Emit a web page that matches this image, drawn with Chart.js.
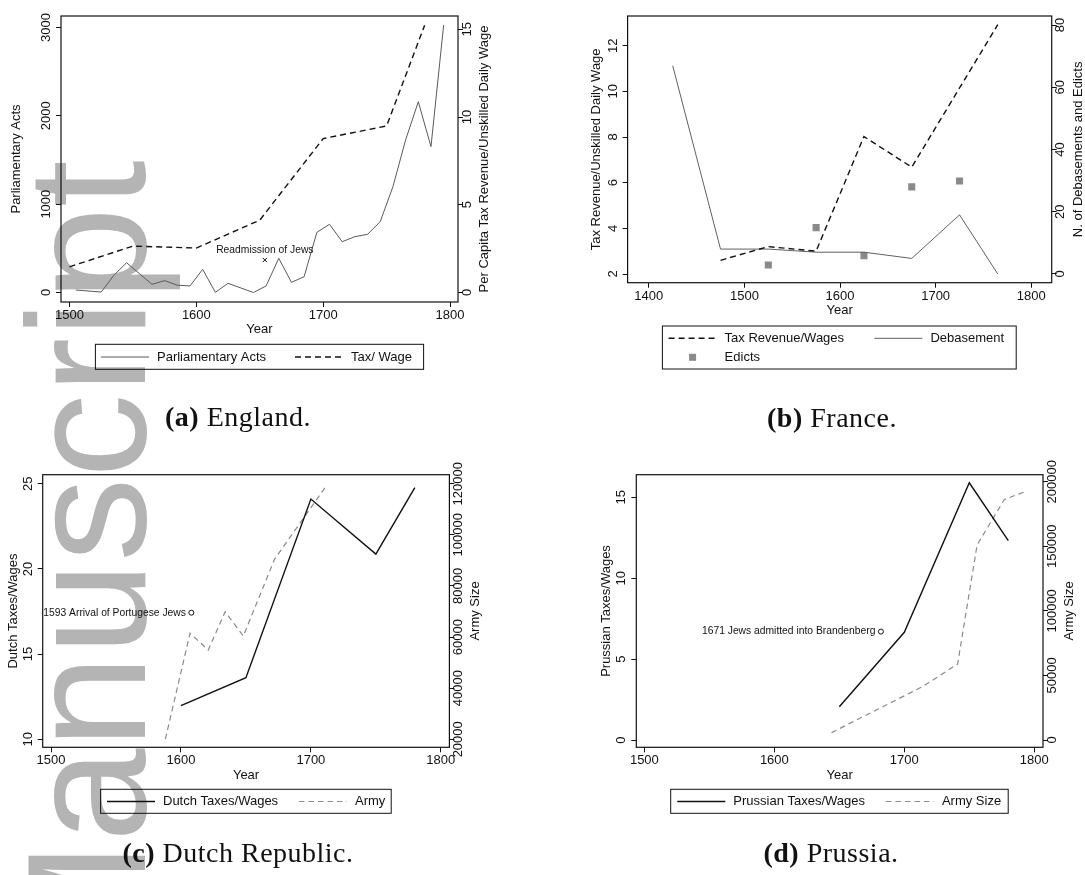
<!DOCTYPE html>
<html>
<head>
<meta charset="utf-8">
<script src="https://cdn.jsdelivr.net/npm/chart.js@4.4.1/dist/chart.umd.min.js"></script>
<style>
  html, body { margin: 0; padding: 0; background: #fff; }
  body { position: relative; width: 1085px; height: 875px; overflow: hidden; }
  #mark { position: absolute; left: 3px; top: 982px; transform-origin: 0 0; transform: rotate(-90deg);
          font: 168px/168px "Liberation Sans", Arial, sans-serif; color: #b4b4b4; white-space: nowrap; z-index: 0; }
  canvas { position: absolute; z-index: 1; }
  .cap { position: absolute; z-index: 2; transform: translate(-50%, -50%); white-space: nowrap;
         font: 28px "Liberation Serif", serif; letter-spacing: 0.5px; color: #111; }
</style>
</head>
<body>
<div id="mark">Manuscript</div>
<canvas id="eng" width="540" height="440" style="left:0;top:0"></canvas>
<canvas id="fra" width="545" height="440" style="left:540px;top:0"></canvas>
<canvas id="dut" width="540" height="435" style="left:0;top:440px"></canvas>
<canvas id="pru" width="545" height="435" style="left:540px;top:440px"></canvas>
<div class="cap" style="left:238px;top:417px"><b>(a)</b> England.</div>
<div class="cap" style="left:832px;top:418px"><b>(b)</b> France.</div>
<div class="cap" style="left:238px;top:853px"><b>(c)</b> Dutch Republic.</div>
<div class="cap" style="left:831px;top:853px"><b>(d)</b> Prussia.</div>
<script>
const SANS = '"Liberation Sans", Arial, sans-serif';
const INK = '#111';

// (a) England
const engYearTicks = [1500, 1600, 1700, 1800];
const engActTicks = [0, 1000, 2000, 3000];
const engTaxTicks = [0, 5, 10, 15];
const engActYears = [1505, 1525, 1535, 1545, 1565, 1575, 1585, 1595, 1605, 1615, 1625, 1645, 1655, 1665, 1675, 1685,
                     1695, 1705, 1715, 1725, 1735, 1745, 1755, 1765, 1775, 1785, 1795];
const engActs = [28, 5, 195, 337, 93, 134, 83, 74, 262, 2, 104, 0, 74, 387, 115, 179,
                 681, 772, 575, 632, 659, 802, 1198, 1727, 2160, 1651, 3028];
const engTaxYears = [1500, 1550, 1600, 1650, 1700, 1750, 1780];
const engTax = [1.46, 2.64, 2.53, 4.12, 8.77, 9.49, 15.23];
const engNoteYear = 1654;
const engNoteActs = 368;

// (b) France
const fraYearTicks = [1400, 1500, 1600, 1700, 1800];
const fraTaxTicks = [2, 4, 6, 8, 10, 12];
const fraCountTicks = [0, 20, 40, 60, 80];
const fraTaxYears = [1475, 1525, 1575, 1625, 1675, 1765];
const fraTax = [2.6, 3.2, 3.0, 8.02, 6.68, 12.92];
const fraDebYears = [1425, 1475, 1525, 1575, 1625, 1675, 1725, 1765];
const fraDebasements = [66.9, 8, 8, 7, 7, 5, 19, 0];
const fraEdictYears = [1525, 1575, 1625, 1675, 1725];
const fraEdicts = [2.9, 14.9, 5.9, 28, 29.9];

// (c) Dutch Republic
const dutYearTicks = [1500, 1600, 1700, 1800];
const dutTaxTicks = [10, 15, 20, 25];
const dutArmyTicks = [20000, 40000, 60000, 80000, 100000, 120000];
const dutTaxYears = [1600, 1650, 1700, 1750, 1780];
const dutTax = [11.98, 13.62, 24.1, 20.87, 24.77];
const dutArmyYears = [1588, 1607, 1621, 1634, 1648, 1672, 1712];
const dutArmy = [20100, 61500, 54900, 69900, 60400, 90400, 119300];
const dutNoteYear = 1608;
const dutNoteTax = 17.43;

// (d) Prussia
const pruYearTicks = [1500, 1600, 1700, 1800];
const pruTaxTicks = [0, 5, 10, 15];
const pruArmyTicks = [0, 50000, 100000, 150000, 200000];
const pruTaxYears = [1650, 1700, 1750, 1780];
const pruTax = [2.06, 6.66, 15.9, 12.32];
const pruArmyYears = [1644, 1714, 1741, 1756, 1777, 1793];
const pruArmy = [5700, 41300, 58800, 151000, 186300, 192300];
const pruNoteYear = 1682;
const pruNoteTax = 6.7;

function pts(xs, ys) {
  return xs.map((x, i) => ({ x: x, y: ys[i] }));
}

function fixedTicks(list) {
  return function (scale) { scale.ticks = list.map(v => ({ value: v })); };
}

// plot box, rotated y labels and titles, boxed legend and the note text
const panelPlugin = {
  id: 'panel',
  beforeDatasetsDraw(chart, args, o) {
    const a = chart.chartArea, ctx = chart.ctx;
    ctx.save();
    ctx.strokeStyle = INK;
    ctx.lineWidth = 1.2;
    ctx.strokeRect(a.left, a.top, a.right - a.left, a.bottom - a.top);
    ctx.restore();
  },
  afterDraw(chart, args, o) {
    const a = chart.chartArea, ctx = chart.ctx;
    const midY = (a.top + a.bottom) / 2;
    ctx.save();
    ctx.fillStyle = INK;
    ctx.textAlign = 'center';
    ctx.textBaseline = 'middle';
    ctx.font = '13px ' + SANS;
    function up(text, x, y) {
      ctx.save();
      ctx.translate(x, y);
      ctx.rotate(-Math.PI / 2);
      ctx.fillText(text, 0, 0);
      ctx.restore();
    }
    const ly = chart.scales.y, ry = chart.scales.y2;
    ly.ticks.forEach(t => up(String(t.value), a.left - 14.5, ly.getPixelForValue(t.value)));
    ry.ticks.forEach(t => up(String(t.value), a.right + 9, ry.getPixelForValue(t.value)));
    up(o.leftTitle, o.leftTitleX, midY);
    up(o.rightTitle, a.right + 26.5, midY);

    const lg = o.legend;
    ctx.strokeStyle = INK;
    ctx.lineWidth = 1;
    ctx.strokeRect(lg.box[0], lg.box[1], lg.box[2], lg.box[3]);
    ctx.textAlign = 'left';
    lg.items.forEach(it => {
      const ds = chart.data.datasets[it.ds];
      if (ds.showLine === false) {
        ctx.fillStyle = ds.pointBackgroundColor;
        ctx.fillRect(it.x + 24 - 3.5, it.y - 3.5, 7, 7);
      } else {
        ctx.save();
        ctx.strokeStyle = ds.borderColor;
        ctx.lineWidth = ds.borderWidth;
        ctx.setLineDash(ds.borderDash || []);
        ctx.beginPath();
        ctx.moveTo(it.x, it.y);
        ctx.lineTo(it.x + 48, it.y);
        ctx.stroke();
        ctx.restore();
      }
      ctx.fillStyle = INK;
      ctx.fillText(ds.label, it.x + 56, it.y);
    });

    if (o.note) {
      const ds = chart.data.datasets[o.note.ds];
      const p = chart.getDatasetMeta(o.note.ds).data[0];
      ctx.font = '10.3px ' + SANS;
      if (o.note.place === 'above') {
        ctx.textAlign = 'center';
        ctx.fillText(ds.label, p.x, p.y - 10);
      } else {
        ctx.textAlign = 'right';
        ctx.fillText(ds.label, p.x - 5.5, p.y);
      }
    }
    ctx.restore();
  }
};

function build(id, area, xr, yr, y2r, xTicks, yTicks, y2Ticks, datasets, panel) {
  const cv = document.getElementById(id);
  const axisFont = { family: SANS, size: 13 };
  const tickGrid = { drawOnChartArea: false, drawTicks: true, tickLength: 5, color: INK, lineWidth: 1 };
  return new Chart(cv, {
    type: 'line',
    data: { datasets: datasets },
    options: {
      responsive: false,
      animation: false,
      events: [],
      layout: { padding: { top: area.top, left: 0, right: 0, bottom: cv.height - area.bottom - 35.6 } },
      elements: { point: { radius: 0 }, line: { tension: 0, fill: false } },
      plugins: { legend: { display: false }, tooltip: { enabled: false }, panel: panel },
      scales: {
        x: {
          type: 'linear', position: 'bottom', min: xr[0], max: xr[1],
          afterBuildTicks: fixedTicks(xTicks),
          ticks: { autoSkip: false, maxRotation: 0, padding: 0.5, color: INK, font: axisFont, callback: v => String(v) },
          grid: tickGrid, border: { display: false },
          title: { display: true, text: 'Year', color: INK, font: axisFont, padding: 0 },
          afterFit: s => { s.height = 35.6; }
        },
        y: {
          type: 'linear', position: 'left', min: yr[0], max: yr[1],
          afterBuildTicks: fixedTicks(yTicks),
          ticks: { display: false }, grid: tickGrid, border: { display: false },
          afterFit: s => { s.width = area.left; }
        },
        y2: {
          type: 'linear', position: 'right', min: y2r[0], max: y2r[1],
          afterBuildTicks: fixedTicks(y2Ticks),
          ticks: { display: false }, grid: tickGrid, border: { display: false },
          afterFit: s => { s.width = cv.width - area.right; }
        }
      }
    },
    plugins: [panelPlugin]
  });
}

const blackDash = [6, 4];
const grayDash = [5.5, 4];

build('eng', { left: 61, right: 458, top: 16, bottom: 302 },
  [1493.3, 1806.3], [-107.5, 3130], [-0.547, 15.76],
  engYearTicks, engActTicks, engTaxTicks,
  [
    { label: 'Parliamentary Acts', data: pts(engActYears, engActs), yAxisID: 'y', borderColor: '#5a5a5a', borderWidth: 1 },
    { label: 'Tax/ Wage', data: pts(engTaxYears, engTax), yAxisID: 'y2', borderColor: INK, borderWidth: 1.4, borderDash: blackDash },
    { label: 'Readmission of Jews', data: pts([engNoteYear], [engNoteActs]), yAxisID: 'y', showLine: false,
      pointStyle: 'crossRot', pointRadius: 3, pointBorderColor: INK, pointBorderWidth: 1 }
  ],
  { leftTitle: 'Parliamentary Acts', leftTitleX: 16.5, rightTitle: 'Per Capita Tax Revenue/Unskilled Daily Wage',
    legend: { box: [95.4, 344.3, 328.2, 25], items: [{ ds: 0, x: 101, y: 357 }, { ds: 1, x: 295, y: 357 }] },
    note: { ds: 2, place: 'above' } });

build('fra', { left: 87.6, right: 511.7, top: 16, bottom: 282.7 },
  [1377.8, 1821.4], [1.619, 13.3], [-2.8, 82.9],
  fraYearTicks, fraTaxTicks, fraCountTicks,
  [
    { label: 'Tax Revenue/Wages', data: pts(fraTaxYears, fraTax), yAxisID: 'y', borderColor: INK, borderWidth: 1.4, borderDash: blackDash },
    { label: 'Debasement', data: pts(fraDebYears, fraDebasements), yAxisID: 'y2', borderColor: '#606060', borderWidth: 1 },
    { label: 'Edicts', data: pts(fraEdictYears, fraEdicts), yAxisID: 'y2', showLine: false,
      pointStyle: 'rect', pointRadius: 5, pointBackgroundColor: '#8a8a8a', pointBorderWidth: 0 }
  ],
  { leftTitle: 'Tax Revenue/Unskilled Daily Wage', leftTitleX: 56, rightTitle: 'N. of Debasements and Edicts',
    legend: { box: [122.4, 326, 353.8, 43], items: [{ ds: 0, x: 128.6, y: 338.3 }, { ds: 1, x: 334.4, y: 338.3 }, { ds: 2, x: 128.6, y: 357.3 }] } });

build('dut', { left: 42.7, right: 449.4, top: 34.7, bottom: 307.3 },
  [1493.6, 1806.6], [9.53, 25.53], [16870, 123520],
  dutYearTicks, dutTaxTicks, dutArmyTicks,
  [
    { label: 'Dutch Taxes/Wages', data: pts(dutTaxYears, dutTax), yAxisID: 'y', borderColor: INK, borderWidth: 1.4 },
    { label: 'Army', data: pts(dutArmyYears, dutArmy), yAxisID: 'y2', borderColor: '#8a8a8a', borderWidth: 1.2, borderDash: grayDash },
    { label: '1593 Arrival of Portugese Jews', data: pts([dutNoteYear], [dutNoteTax]), yAxisID: 'y', showLine: false,
      pointStyle: 'circle', pointRadius: 2.5, pointBackgroundColor: '#fff', pointBorderColor: INK, pointBorderWidth: 1 }
  ],
  { leftTitle: 'Dutch Taxes/Wages', leftTitleX: 13.1, rightTitle: 'Army Size',
    legend: { box: [100.6, 349.3, 290.6, 24], items: [{ ds: 0, x: 107, y: 361.5 }, { ds: 1, x: 299, y: 361.5 }] },
    note: { ds: 2, place: 'left' } });

build('pru', { left: 96.3, right: 503, top: 34.7, bottom: 307.3 },
  [1493.8, 1806.7], [-0.45, 16.4], [-5650, 205420],
  pruYearTicks, pruTaxTicks, pruArmyTicks,
  [
    { label: 'Prussian Taxes/Wages', data: pts(pruTaxYears, pruTax), yAxisID: 'y', borderColor: INK, borderWidth: 1.4 },
    { label: 'Army Size', data: pts(pruArmyYears, pruArmy), yAxisID: 'y2', borderColor: '#8a8a8a', borderWidth: 1.2, borderDash: grayDash },
    { label: '1671 Jews admitted into Brandenberg', data: pts([pruNoteYear], [pruNoteTax]), yAxisID: 'y', showLine: false,
      pointStyle: 'circle', pointRadius: 2.5, pointBackgroundColor: '#fff', pointBorderColor: INK, pointBorderWidth: 1 }
  ],
  { leftTitle: 'Prussian Taxes/Wages', leftTitleX: 66, rightTitle: 'Army Size',
    legend: { box: [130.7, 349.3, 337.5, 24], items: [{ ds: 0, x: 137.3, y: 361.5 }, { ds: 1, x: 345.9, y: 361.5 }] },
    note: { ds: 2, place: 'left' } });
</script>
</body>
</html>
